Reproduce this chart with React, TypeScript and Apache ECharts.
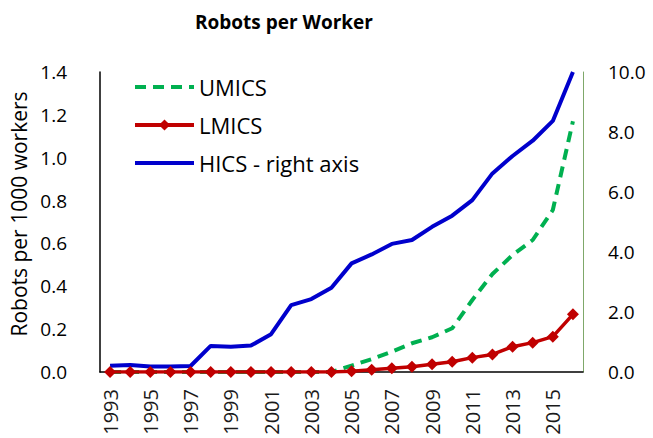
import React, { useEffect, useRef } from "react";
import * as echarts from "echarts";

const years = ["1993","1994","1995","1996","1997","1998","1999","2000","2001","2002","2003","2004","2005","2006","2007","2008","2009","2010","2011","2012","2013","2014","2015","2016"];
const umics = [0,0,0,0,0,0,0,0,0,0,0,0,0.03,0.06,0.095,0.134,0.162,0.204,0.336,0.457,0.546,0.616,0.756,1.17];
const lmics = [0,0,0,0,0,0,0,0,0,0,0,0,0.003,0.01,0.017,0.025,0.036,0.048,0.067,0.082,0.118,0.137,0.165,0.269];
const hics = [0.21,0.23,0.18,0.18,0.2,0.87,0.84,0.88,1.26,2.23,2.43,2.81,3.62,3.92,4.27,4.4,4.84,5.21,5.73,6.62,7.2,7.71,8.37,10.0];

const FONT = "Open Sans";

export default function App() {
  const ref = useRef<HTMLDivElement>(null);
  useEffect(() => {
    const chart = echarts.init(ref.current!, null, { renderer: "svg" });
    chart.setOption({
      animation: false,
      textStyle: { fontFamily: FONT },
      title: {
        text: "Robots per Worker",
        left: 190,
        top: 7,
        textStyle: { fontFamily: FONT, fontSize: 19, fontWeight: "bold", color: "#000" },
      },
      legend: {
        orient: "vertical",
        left: 128,
        top: 71,
        itemWidth: 59,
        itemHeight: 14,
        itemGap: 16,
        textStyle: { fontFamily: FONT, fontSize: 22, color: "#000" },
        data: [
          { name: "UMICS", itemStyle: { opacity: 0 }, lineStyle: { width: 4 } },
          { name: "LMICS", lineStyle: { width: 4 } },
          { name: "HICS - right axis", itemStyle: { opacity: 0 }, lineStyle: { width: 4 } },
        ],
      },
      grid: { left: 100, right: 70, top: 72, bottom: 66 },
      xAxis: {
        type: "category",
        data: years,
        boundaryGap: true,
        axisLine: { lineStyle: { color: "#000", width: 1.5 } },
        axisTick: { show: false },
        axisLabel: { rotate: 90, interval: 1, fontSize: 20, color: "#1a1a1a", margin: 17, fontFamily: FONT },
      },
      yAxis: [
        {
          type: "value",
          min: 0,
          max: 1.4,
          interval: 0.2,
          name: "Robots per 1000 workers",
          nameLocation: "middle",
          nameGap: 70,
          nameTextStyle: { fontSize: 21, color: "#000", fontFamily: FONT, padding: [0, 0, 0, 16] },
          axisLine: { show: true, lineStyle: { color: "#000", width: 1.5 } },
          axisTick: { show: false },
          splitLine: { show: false },
          axisLabel: { fontSize: 19, color: "#000", margin: 33, formatter: (v: number) => v.toFixed(1), fontFamily: FONT },
        },
        {
          type: "value",
          min: 0,
          max: 10,
          interval: 2,
          position: "right",
          axisLine: { show: true, lineStyle: { color: "#7FA86A", width: 1 } },
          axisTick: { show: false },
          splitLine: { show: false },
          axisLabel: { fontSize: 19, color: "#000", margin: 25, formatter: (v: number) => v.toFixed(1), fontFamily: FONT },
        },
      ],
      series: [
        {
          name: "UMICS",
          type: "line",
          data: umics,
          symbol: "none",
          lineStyle: { color: "#00B050", width: 4, type: [11, 7] },
          itemStyle: { color: "#00B050" },
          z: 3,
        },
        {
          name: "LMICS",
          type: "line",
          data: lmics,
          symbol: "diamond",
          symbolSize: 12,
          lineStyle: { color: "#C00000", width: 3.5 },
          itemStyle: { color: "#C00000" },
          z: 4,
        },
        {
          name: "HICS - right axis",
          type: "line",
          yAxisIndex: 1,
          data: hics,
          symbol: "none",
          lineStyle: { color: "#0000CC", width: 4 },
          itemStyle: { color: "#0000CC" },
          z: 2,
        },
      ],
    });
    return () => chart.dispose();
  }, []);
  return <div ref={ref} style={{ width: 653, height: 438, position: "absolute", left: 0, top: 0 }} />;
}
